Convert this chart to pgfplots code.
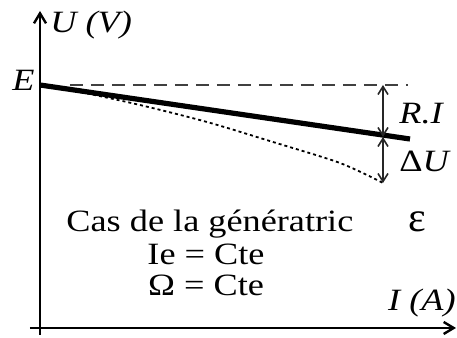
\documentclass[border=0pt]{standalone}
\usepackage{pgfplots}
\pgfplotsset{compat=1.18}
\usepackage{fontspec}
\setmainfont{Liberation Serif}
\usetikzlibrary{arrows.meta}
\newcommand{\sx}[1]{\scalebox{1.17}[1]{#1}}
\begin{document}
\begin{tikzpicture}
\begin{axis}[x=0.5pt,y=0.5pt,xmin=0,xmax=457,ymin=0,ymax=338,
  axis lines=none, clip=false, scale only axis]
\path[use as bounding box] (axis cs:0,0) rectangle (axis cs:457,338);
% axes
\addplot[black, line width=1.2pt, -{Straight Barb[length=5pt,width=6pt,line width=1.2pt]}] coordinates {(40,3) (40,327)};
\addplot[black, line width=1.2pt, -{Straight Barb[length=5pt,width=6pt,line width=1.2pt]}] coordinates {(30,10) (456,10)};
% dashed E level
\addplot[gray!50!black, line width=1.1pt, dash pattern=on 6.5pt off 4pt] coordinates {(70,253) (408,253)};
% solid characteristic
\addplot[black, line width=2.6pt] coordinates {(40,253) (410,199)};
% dotted real curve
\addplot[black, line width=0.9pt, dash pattern=on 1.5pt off 1.5pt, smooth] coordinates {(40,253) (80,246) (140,233) (207,216) (273,196) (340,175) (383,155)};
% double arrows
\addplot[black!85, line width=0.8pt, {Straight Barb[length=4pt,width=5pt]}-{Straight Barb[length=4pt,width=5pt]}] coordinates {(383,253) (383,201)};
\addplot[black!85, line width=0.8pt, {Straight Barb[length=4pt,width=5pt]}-{Straight Barb[length=4pt,width=5pt]}] coordinates {(383,201) (383,155)};
% labels
\node[font=\fontsize{15.5}{18}\selectfont\itshape, anchor=base west, inner sep=0pt] at (axis cs:50,305) {\sx{U (V)}};
\node[font=\fontsize{15.5}{18}\selectfont\itshape, anchor=base west, inner sep=0pt] at (axis cs:12,247) {\sx{E}};
\node[font=\fontsize{15.5}{18}\selectfont\itshape, anchor=base west, inner sep=0pt] at (axis cs:399,214) {\sx{R.I}};
\node[font=\fontsize{15.5}{18}\selectfont, anchor=base west, inner sep=0pt] at (axis cs:399,166) {\sx{Δ\textit{U}}};
\node[font=\fontsize{15.5}{18}\selectfont\itshape, anchor=base east, inner sep=0pt] at (axis cs:456,27) {\sx{I (A)}};
\node[font=\fontsize{15.5}{18}\selectfont, anchor=base west, inner sep=0pt] at (axis cs:66,106) {\sx{Cas de la génératric}};
\node[font=\fontsize{15.5}{18}\selectfont, anchor=base, inner sep=0pt] at (axis cs:206,73) {\sx{Ie = Cte}};
\node[font=\fontsize{15.5}{18}\selectfont, anchor=base, inner sep=0pt] at (axis cs:206,42) {\sx{Ω = Cte}};
\node[font=\fontsize{21}{24}\selectfont, inner sep=0pt] at (axis cs:417,116) {ε};
\end{axis}
\end{tikzpicture}
\end{document}
